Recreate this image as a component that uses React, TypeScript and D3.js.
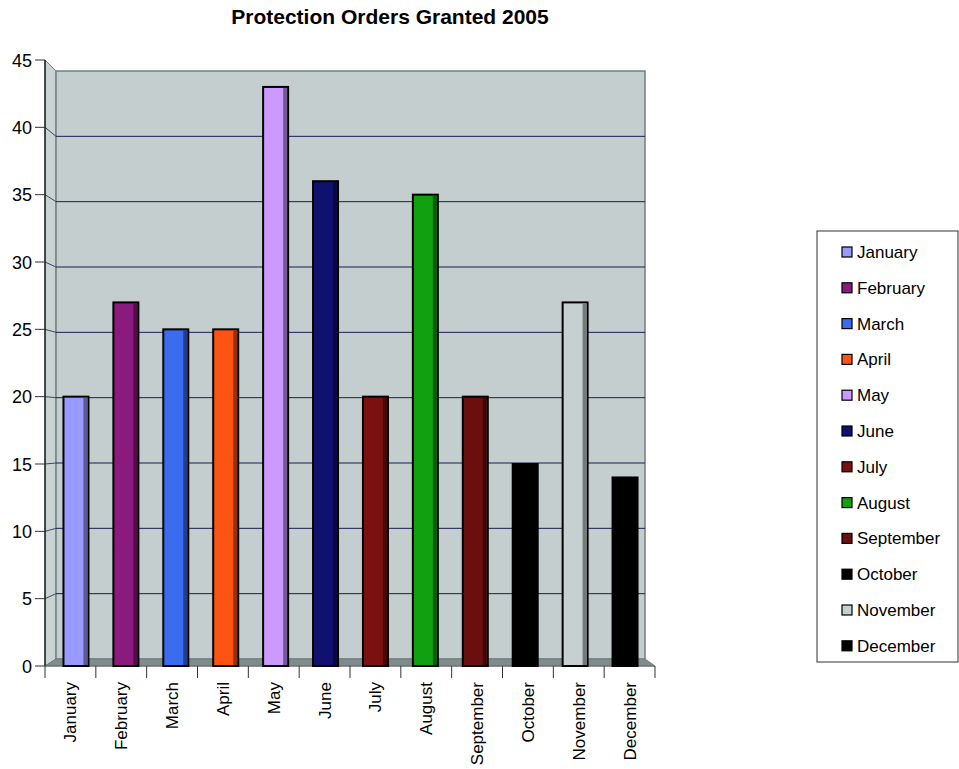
import React from "react";
import * as d3 from "d3";

const months = ["January","February","March","April","May","June","July","August","September","October","November","December"];
const values = [20, 27, 25, 25, 43, 36, 20, 35, 20, 15, 27, 14];
const colors = ["#9999ff","#8a1a7c","#3a6cf0","#ff5314","#cc99ff","#10106e","#7a1010","#10a010","#6a0e0e","#000000","#c6d0d0","#000000"];
const yTicks = [0,5,10,15,20,25,30,35,40,45];
const title = "Protection Orders Granted 2005";

export default function App() {
  const W = 959, H = 769;
  const fx0 = 45, fx1 = 655, fy0 = 666, fyTop = 60;
  const bx0 = 56, bx1 = 645, by0 = 659, byTop = 71;
  const yFront = d3.scaleLinear().domain([0, 45]).range([fy0, fyTop]);
  const yBack = d3.scaleLinear().domain([0, 45]).range([by0, byTop]);
  const x = d3.scaleBand<string>().domain(months).range([fx0, fx1]).padding(0);
  const xb = d3.scaleBand<string>().domain(months).range([51, 650]).padding(0);
  const bw = 25;
  const font = "Liberation Sans, Arial, sans-serif";
  return (
    <svg width={W} height={H} style={{ position: "absolute", left: 0, top: 0, background: "#fff" }} fontFamily={font}>
      <text x={390} y={24} textAnchor="middle" fontSize={21} fontWeight="bold">{title}</text>
      {/* left wall */}
      <polygon points={`${fx0},${fyTop} ${bx0},${byTop} ${bx0},${by0} ${fx0},${fy0}`} fill="#c9d3d3" stroke="#6f7f7f" strokeWidth={1} />
      {/* back wall */}
      <rect x={bx0} y={byTop} width={bx1 - bx0} height={by0 - byTop} fill="#c4cece" stroke="#708080" strokeWidth={1.5} />
      {/* floor */}
      <polygon points={`${fx0},${fy0} ${bx0},${by0} ${bx1},${by0} ${fx1},${fy0}`} fill="#808c8c" stroke="#6f7f7f" strokeWidth={1} />
      {/* gridlines */}
      {yTicks.filter(v => v > 0 && v < 45).map(v => (
        <g key={v}>
          <line x1={bx0} x2={bx1} y1={yBack(v)} y2={yBack(v)} stroke="#1c1c50" strokeWidth={1} />
          <line x1={fx0} x2={bx0} y1={yFront(v)} y2={yBack(v)} stroke="#3a4a5a" strokeWidth={1} />
        </g>
      ))}
      {/* y axis */}
      <line x1={fx0} x2={fx0} y1={fyTop} y2={fy0} stroke="#000" strokeWidth={1.2} />
      {yTicks.map(v => (
        <g key={v}>
          <line x1={35} x2={fx0} y1={yFront(v)} y2={yFront(v)} stroke="#333" strokeWidth={1} />
          <text x={32} y={yFront(v) + 6.5} textAnchor="end" fontSize={18}>{v}</text>
        </g>
      ))}
      {/* x axis */}
      <line x1={fx0} x2={fx1} y1={fy0} y2={fy0} stroke="#666" strokeWidth={1} />
      {months.map((m) => (
        <line key={"t" + m} x1={x(m)!} x2={x(m)!} y1={fy0} y2={678} stroke="#333" strokeWidth={1} />
      ))}
      <line x1={fx1} x2={fx1} y1={fy0} y2={678} stroke="#333" strokeWidth={1} />
      {/* bars */}
      {months.map((m, i) => {
        const left = xb(m)! + xb.bandwidth() / 2 - bw / 2;
        const top = yFront(values[i]);
        const side = d3.color(colors[i])!.darker(1.5).toString();
        return (
          <g key={"b" + m}>
            <rect x={left} y={top} width={bw} height={fy0 - top} fill={colors[i]} stroke="#000" strokeWidth={2} />
            <rect x={left + bw - 5} y={top + 1} width={4} height={fy0 - top - 2} fill={side} />
          </g>
        );
      })}
      {months.map((m) => {
        const cx = x(m)! + x.bandwidth() / 2;
        return (
          <text key={"l" + m} transform={`translate(${cx + 6},682) rotate(-90)`} textAnchor="end" fontSize={17}>{m}</text>
        );
      })}
      {/* legend */}
      <rect x={817} y={231} width={141} height={431} fill="#fff" stroke="#333" strokeWidth={1} />
      {months.map((m, i) => {
        const cy = 252 + i * 35.8;
        return (
          <g key={"lg" + m}>
            <rect x={842} y={cy - 5} width={10} height={10} fill={colors[i]} stroke="#000" strokeWidth={1.2} />
            <text x={857} y={cy + 6} fontSize={17}>{m}</text>
          </g>
        );
      })}
    </svg>
  );
}
